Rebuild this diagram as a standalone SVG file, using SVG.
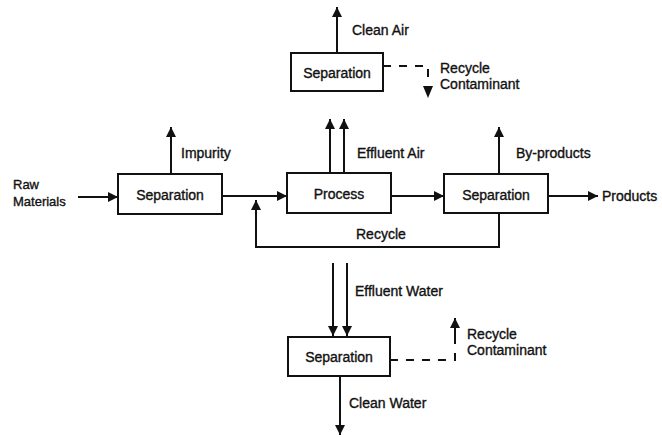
<svg xmlns="http://www.w3.org/2000/svg" width="662" height="438" viewBox="0 0 662 438">
<style>
.box{fill:#fff;stroke:#111;stroke-width:2}
.ln{fill:none;stroke:#111;stroke-width:2}
.dash{fill:none;stroke:#111;stroke-width:2;stroke-dasharray:8 8}
text{font-family:"Liberation Sans",Arial,sans-serif;font-size:14px;fill:#111;stroke:#111;stroke-width:0.35}
.c{text-anchor:middle}
.s{font-size:13px}
</style>
<defs>
<marker id="ah" viewBox="0 0 10 10" refX="10" refY="5" markerWidth="12" markerHeight="10" markerUnits="userSpaceOnUse" orient="auto">
<path d="M0,0 L10,5 L0,10 z" fill="#111"/>
</marker>
</defs>
<rect width="662" height="438" fill="#fff"/>
<g id="connectors">
<line class="ln" x1="78" y1="197" x2="118" y2="197" marker-end="url(#ah)"/>
<line class="ln" x1="171" y1="174" x2="171" y2="127" marker-end="url(#ah)"/>
<line class="ln" x1="222" y1="196" x2="287" y2="196" marker-end="url(#ah)"/>
<line class="ln" x1="330" y1="173" x2="330" y2="119" marker-end="url(#ah)"/>
<line class="ln" x1="344" y1="173" x2="344" y2="119" marker-end="url(#ah)"/>
<line class="ln" x1="391" y1="196" x2="444" y2="196" marker-end="url(#ah)"/>
<line class="ln" x1="499" y1="174" x2="499" y2="127" marker-end="url(#ah)"/>
<line class="ln" x1="548" y1="196" x2="598" y2="196" marker-end="url(#ah)"/>
<polyline class="ln" points="499,213 499,247 256,247 256,200" marker-end="url(#ah)"/>
<line class="ln" x1="337" y1="53" x2="337" y2="7" marker-end="url(#ah)"/>
<path class="dash" d="M383,66 H428 V77"/>
<polygon points="423,86 433,86 428,98" fill="#111"/>
<line class="ln" x1="333" y1="263" x2="333" y2="336" marker-end="url(#ah)"/>
<line class="ln" x1="347" y1="263" x2="347" y2="336" marker-end="url(#ah)"/>
<line class="ln" x1="340" y1="376" x2="340" y2="435" marker-end="url(#ah)"/>
<path class="dash" d="M390,360 H455 V350"/>
<line class="ln" x1="455" y1="344" x2="455" y2="318" marker-end="url(#ah)"/>
</g>
<g id="raw"><text class="s" x="13" y="189">Raw</text><text class="s" x="13" y="206">Materials</text></g>
<g id="sep1"><rect class="box" x="118" y="174" width="104" height="40"/><text class="c" x="170" y="200">Separation</text></g>
<g id="impurity"><text x="181" y="158">Impurity</text></g>
<g id="process"><rect class="box" x="287" y="173" width="104" height="40"/><text class="c" x="339" y="199">Process</text></g>
<g id="effluent-air"><text x="357" y="158">Effluent Air</text></g>
<g id="sep3"><rect class="box" x="444" y="174" width="104" height="39"/><text class="c" x="496" y="200">Separation</text></g>
<g id="byproducts"><text x="516" y="158">By-products</text></g>
<g id="products"><text x="602" y="201">Products</text></g>
<g id="recycle"><text x="356" y="239">Recycle</text></g>
<g id="sep-air"><rect class="box" x="291" y="53" width="92" height="38"/><text class="c" x="337" y="78">Separation</text></g>
<g id="clean-air"><text x="352" y="35">Clean Air</text></g>
<g id="recycle-top"><text x="440" y="73">Recycle</text><text x="440" y="89">Contaminant</text></g>
<g id="effluent-water"><text x="355" y="296">Effluent Water</text></g>
<g id="sep-water"><rect class="box" x="288" y="337" width="102" height="39"/><text class="c" x="339" y="362">Separation</text></g>
<g id="clean-water"><text x="349" y="408">Clean Water</text></g>
<g id="recycle-bottom"><text x="467" y="339">Recycle</text><text x="467" y="355">Contaminant</text></g>
</svg>
